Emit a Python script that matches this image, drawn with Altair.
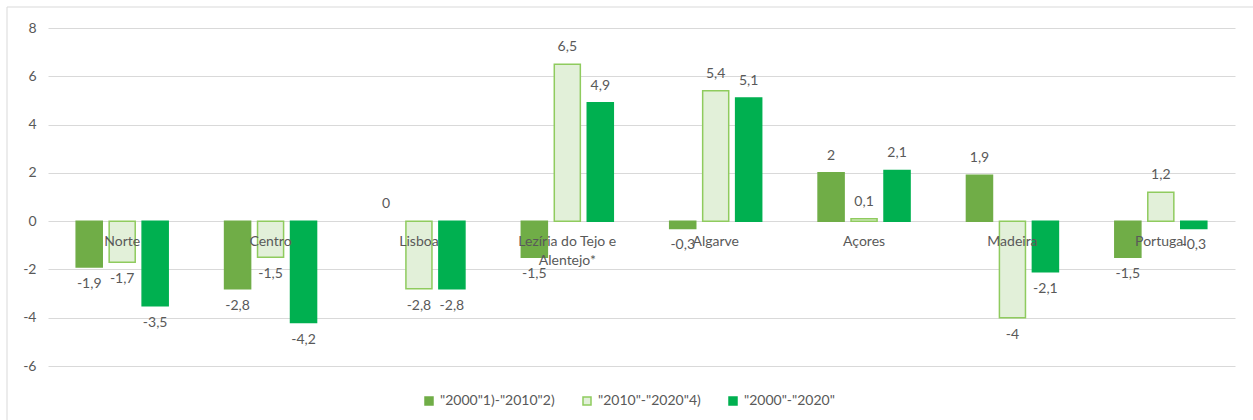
import altair as alt
import pandas as pd

# Regions (NUTS II) and the three periods compared
regions = ["Norte", "Centro", "Lisboa", "Lezíria do Tejo e\nAlentejo*", "Algarve",
           "Açores", "Madeira", "Portugal"]
series = ['"2000"1)-"2010"2)', '"2010"-"2020"4)', '"2000"-"2020"']

v_2000_2010 = [-1.9, -2.8, 0, -1.5, -0.3, 2, 1.9, -1.5]
v_2010_2020 = [-1.7, -1.5, -2.8, 6.5, 5.4, 0.1, -4, 1.2]
v_2000_2020 = [-3.5, -4.2, -2.8, 4.9, 5.1, 2.1, -2.1, -0.3]

y_ticks = [-6, -4, -2, 0, 2, 4, 6, 8]

fill_colors = ["#70AD47", "#E2F0D9", "#00B050"]
stroke_colors = ["#70AD47", "#8FCB5E", "#00B050"]
TEXT = "#595959"
FONT = "Lato"
FS = 14


def pt_label(v):
    s = f"{v:g}"
    return s.replace(".", ",")


rows = []
for name, values in zip(series, [v_2000_2010, v_2010_2020, v_2000_2020]):
    for reg, v in zip(regions, values):
        rows.append({"region": reg, "series": name, "value": v, "label": pt_label(v)})
df = pd.DataFrame(rows)

x_enc = alt.X("region:N", sort=regions, axis=None,
              scale=alt.Scale(paddingInner=0.38, paddingOuter=0.19))
xoff_enc = alt.XOffset("series:N", sort=series,
                       scale=alt.Scale(domain=series, paddingInner=0.21, paddingOuter=0))
y_scale = alt.Scale(domain=[-6, 8], nice=False, zero=False)

legend_spec = alt.Legend(
    title=None, orient="none", direction="horizontal", legendX=374, legendY=366,
    symbolType="square", symbolSize=64, symbolStrokeWidth=1.5,
    labelFontSize=FS, labelColor=TEXT, labelFont=FONT, columnPadding=25,
)

base = alt.Chart(df)

bars = base.mark_bar(strokeWidth=1.5).encode(
    x=x_enc,
    xOffset=xoff_enc,
    y=alt.Y("value:Q", scale=y_scale,
            axis=alt.Axis(values=y_ticks, title=None, domain=False, ticks=False,
                          labelExpr="'' + datum.value", gridColor="#d9d9d9",
                          labelColor=TEXT, labelFontSize=FS, labelFont=FONT,
                          labelPadding=12)),
    fill=alt.Fill("series:N", sort=series,
                  scale=alt.Scale(domain=series, range=fill_colors), legend=legend_spec),
    stroke=alt.Stroke("series:N", sort=series,
                      scale=alt.Scale(domain=series, range=stroke_colors), legend=legend_spec),
    strokeOpacity=alt.condition("datum.value == 0", alt.value(0), alt.value(1)),
)

pos_labels = base.transform_filter("datum.value >= 0").mark_text(
    baseline="middle", dy=-17, fontSize=FS, color=TEXT, font=FONT
).encode(x=x_enc, xOffset=xoff_enc, y=alt.Y("value:Q", scale=y_scale), text="label:N")

neg_labels = base.transform_filter("datum.value < 0").mark_text(
    baseline="middle", dy=17, fontSize=FS, color=TEXT, font=FONT
).encode(x=x_enc, xOffset=xoff_enc, y=alt.Y("value:Q", scale=y_scale), text="label:N")

cat_labels = alt.Chart(pd.DataFrame({"region": regions})).mark_text(
    baseline="top", dy=14, fontSize=FS, color=TEXT, font=FONT,
    lineBreak="\n", lineHeight=19,
).encode(x=x_enc, y=alt.datum(0, scale=y_scale), text="region:N")

frame = alt.Chart(alt.Data(values=[{}])).mark_rect(
    fill=None, stroke="#d9d9d9", strokeWidth=1
).encode(x=alt.value(-41), x2=alt.value(1215), y=alt.value(-21), y2=alt.value(400))

chart = alt.layer(frame, bars, pos_labels, neg_labels, cat_labels).properties(
    width=1187, height=338,
    autosize=alt.AutoSizeParams(type="none"),
    padding={"left": 48, "top": 28, "right": 18, "bottom": 54},
    background="white",
).configure_view(stroke=None)

chart.save("out.html", embed_options={"renderer": "svg", "actions": False})
